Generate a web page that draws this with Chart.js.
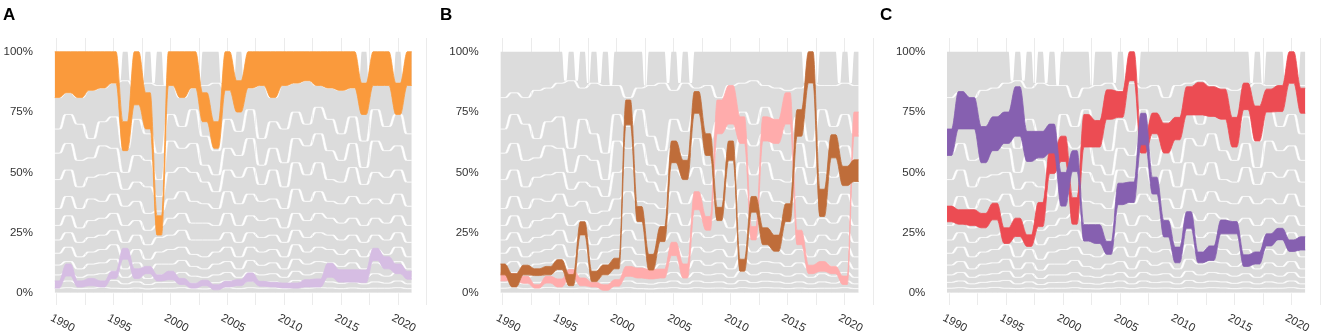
<!DOCTYPE html>
<html lang="en">
<head>
<meta charset="UTF-8">
<title>Ranked shares 1990-2021</title>
<script src="https://cdn.jsdelivr.net/npm/chart.js@4.4.1/dist/chart.umd.min.js"></script>
<style>
  body { margin: 0; background: #fff; font-family: "Liberation Sans", Arial, sans-serif; }
  .wrap { position: relative; width: 1325px; height: 335px; overflow: hidden; }
  .panel { position: absolute; top: 0; height: 335px; }
  .tag { position: absolute; top: 6px; font-weight: bold; font-size: 17px; line-height: 17px; color: #000; }
</style>
</head>
<body>
<div class="wrap">
  <div class="panel" style="left:0;width:440px"><canvas id="chartA" width="440" height="335"></canvas></div>
  <div class="panel" style="left:440px;width:440px"><canvas id="chartB" width="440" height="335"></canvas></div>
  <div class="panel" style="left:880px;width:445px"><canvas id="chartC" width="445" height="335"></canvas></div>
  <div class="tag" style="left:3px">A</div>
  <div class="tag" style="left:440px">B</div>
  <div class="tag" style="left:880px">C</div>
</div>

<script>
  // years and axis ticks
  const years = [1990, 1991, 1992, 1993, 1994, 1995, 1996, 1997, 1998, 1999, 2000, 2001, 2002, 2003, 2004, 2005,
                 2006, 2007, 2008, 2009, 2010, 2011, 2012, 2013, 2014, 2015, 2016, 2017, 2018, 2019, 2020, 2021];
  const yTicks = [0, 25, 50, 75, 100];
  const xLabelYears = [1990, 1995, 2000, 2005, 2010, 2015, 2020];
  const gridYears = [1990, 1992.5, 1995, 1997.5, 2000, 2002.5, 2005, 2007.5, 2010, 2012.5, 2015, 2017.5, 2020, 2022.5];

  // years in which a different entry takes the top rank
  const topChangeYears = [1996, 1997, 1998, 1999, 2000, 2003, 2005, 2006, 2007, 2017, 2018, 2020, 2021];

  // grey background: cumulative share boundaries (%) of the other entries, top to bottom
  const fullShare = years.map(() => 100);
  const zeroShare = years.map(() => 0);
  const bgLine1 = [81, 83, 81, 84, 85, 87, 88, 85, 87, 86, 86, 81, 85, 86, 87, 84, 87, 85, 86, 81, 86, 87, 88, 86, 85, 84, 85, 87, 86, 86, 87, 86];
  const bgLine2 = [68, 74, 70, 64, 71, 73, 60, 72, 66, 58, 74, 69, 76, 65, 59, 72, 67, 76, 64, 71, 68, 75, 70, 77, 72, 66, 73, 63, 76, 69, 74, 66];
  const bgLine3 = [58, 62, 55, 56, 61, 60, 50, 57, 55, 47, 63, 60, 62, 53, 49, 60, 57, 64, 53, 60, 54, 64, 61, 66, 59, 55, 62, 52, 63, 59, 61, 55];
  const bgLine4 = [47, 51, 44, 48, 49, 50, 43, 46, 44, 40, 50, 52, 50, 46, 42, 51, 48, 52, 45, 51, 44, 54, 49, 54, 47, 46, 52, 45, 50, 48, 51, 46];
  const bgLine5 = [35, 40, 35, 39, 38, 41, 36, 38, 33, 34, 39, 42, 38, 37, 35, 42, 37, 41, 38, 39, 35, 43, 38, 42, 38, 37, 40, 37, 39, 37, 41, 36];
  const bgLine6 = [28, 32, 27, 30, 31, 33, 28, 30, 26, 28, 31, 33, 29, 29, 28, 33, 28, 32, 30, 31, 27, 33, 30, 33, 31, 29, 31, 28, 31, 29, 32, 28];
  const bgLine7 = [22, 25, 21, 23, 24, 26, 21, 24, 20, 23, 24, 26, 22, 22, 22, 25, 21, 25, 23, 24, 21, 26, 23, 25, 24, 22, 24, 21, 24, 22, 25, 21];
  const bgLine8 = [16.5, 19, 15, 17, 18, 20, 15, 18, 14, 17, 18, 19, 16, 15, 17, 19, 15, 19, 17, 18, 15, 20, 17, 19, 18, 16, 18, 15, 18, 16, 19, 15];
  const bgLine9 = [11.6, 13, 10, 12, 12.5, 14, 10, 12.5, 9.5, 12, 12, 13.5, 11, 10, 12, 13, 10, 13.5, 11.5, 12.5, 10, 14, 12, 13, 12.5, 11, 12.5, 10, 12.5, 11, 13, 10];
  const bgLine10 = [7.5, 8.5, 6.5, 7.5, 8, 9, 6.5, 8, 6, 7.5, 7.5, 8.5, 7, 6.5, 7.5, 8.5, 6.5, 8.5, 7.5, 8, 6.5, 9, 7.5, 8.5, 8, 7, 8, 6.5, 8, 7, 8.5, 6.5];
  const bgLine11 = [4.4, 5, 3.8, 4.4, 4.8, 5.2, 3.8, 4.6, 3.5, 4.3, 4.4, 5, 4, 3.7, 4.3, 5, 3.8, 5, 4.3, 4.6, 3.8, 5.2, 4.3, 4.9, 4.6, 4, 4.6, 3.8, 4.6, 4.1, 5, 3.8];
  const bgLine12 = [2, 2.2, 1.8, 2, 2.3, 2, 1.8, 2.1, 1.7, 2, 2, 2.2, 1.8, 1.7, 2, 2.2, 1.8, 2.2, 2, 2.1, 1.8, 2.2, 2, 2.2, 2.1, 1.8, 2.1, 1.8, 2, 2, 2.2, 1.8];
  const bgBounds = [fullShare, bgLine1, bgLine2, bgLine3, bgLine4, bgLine5, bgLine6, bgLine7, bgLine8, bgLine9, bgLine10, bgLine11, bgLine12, zeroShare];

  // panel A
  const aOrangeLo = [81, 83, 81, 84, 85, 87, 59, 78, 68, 24, 86, 81, 85, 71, 60, 84, 75, 85, 86, 81, 86, 87, 88, 86, 85, 84, 85, 74, 86, 86, 74, 86];
  const aOrangeHi = [100, 100, 100, 100, 100, 100, 71, 100, 83, 32, 100, 100, 100, 83, 71, 100, 88, 100, 100, 100, 100, 100, 100, 100, 100, 100, 100, 87, 100, 100, 87, 100];
  const aPurpleLo = [2, 7, 2.5, 3, 2.5, 6, 14, 6, 8, 5, 5.5, 3.5, 2, 3, 1.3, 2.5, 3, 4.8, 2.8, 2.5, 2.1, 2, 2.5, 2.5, 6.5, 4.5, 4.5, 4.3, 13.5, 10, 8, 5.7];
  const aPurpleHi = [5, 12, 5, 6, 5, 9, 18.5, 10, 11, 7.5, 9, 6, 4, 5.3, 3.4, 4.8, 5.5, 8.3, 4.8, 4.4, 4.1, 4.1, 5.5, 5.8, 12.3, 9.6, 9.6, 9.5, 18.5, 15, 12, 9];

  // panel B
  const bBrownLo = [7.5, 2.5, 7.5, 7.2, 7.5, 9.7, 3, 24, 4.7, 7.5, 10, 69.7, 29.6, 9.5, 21.3, 54, 47, 74.5, 57, 30, 55, 9, 33.5, 20, 17.3, 29.6, 65, 87, 31.7, 56, 44.5, 46.2];
  const bBrownHi = [12, 8, 11.5, 10, 11, 13.8, 7.6, 29.5, 9, 11.6, 14.4, 80, 35.8, 16, 27.5, 63, 55, 83.5, 66, 35.5, 63, 14, 40, 27, 24, 37, 76, 100, 43, 65.6, 52.5, 55.2];
  const bPinkLo = [5, 5, 4, 2, 4.1, 2.5, 6.2, 3, 2.5, 1.1, 2.8, 6.9, 6.2, 5.8, 6.2, 15.5, 6.2, 34.5, 26, 66, 70, 62, 22, 63, 62, 70, 20, 8, 9, 8, 3.5, 65];
  const bPinkHi = [8.3, 8, 6.9, 3.4, 6.9, 5.8, 9.7, 6.2, 4.4, 3.4, 5.5, 11, 10.3, 9.7, 9.9, 21, 12, 42, 31.7, 80, 86, 73, 27.5, 73, 72, 83, 26, 11.5, 13, 11, 7, 75];

  // panel C
  const cPurpleLo = [57, 68, 68, 54, 59, 62, 65, 54.5, 56, 58, 36, 50.3, 21.5, 20.5, 16, 36.6, 37.5, 61.4, 41, 23.2, 12.5, 26.8, 12.5, 13.5, 24.5, 24.5, 11, 12, 19.5, 22, 17.2, 17.8];
  const cPurpleHi = [68, 83.5, 81, 69, 73, 75, 85.5, 67, 67, 70, 50, 59, 28.3, 28.3, 21.4, 45.5, 46, 74.5, 48, 30, 19, 33.7, 17, 19.5, 30.2, 29.6, 15.8, 17, 24.5, 26.8, 22, 23.3];
  const cRedLo = [29.5, 28.5, 28, 27, 30.3, 20.5, 23.4, 19.3, 27.5, 49.5, 54.5, 28.5, 60.5, 60.5, 72, 72.8, 88, 58, 66, 58, 63.5, 73.8, 73.8, 73.2, 72, 60.5, 76, 63, 75, 75.2, 86.9, 74.5];
  const cRedHi = [36, 34.5, 34.5, 33, 37.2, 27, 31, 24.1, 37.5, 59.5, 65, 39.5, 74, 71.5, 84.2, 83.5, 100, 65.6, 74.6, 70.4, 72.8, 85.5, 87.3, 85.5, 84.5, 72.8, 87, 77.5, 84.5, 86, 100, 84.9];

  // each year's value is held flat for a short stretch, the step between years is smoothed
  const HALF = 0.2;
  // grey ribbons: edges step late/early so neighbouring ribbons leave small gaps
  const SHIFT = 0.15;
  // half width of the flat bottom of a notch between two leaders
  const NOTCH = 0.09;

  function ribbonPoints(vals, hug) {
    const pts = [];
    const n = vals.length;
    years.forEach((yr, i) => {
      const v = vals[i];
      let start = yr - HALF, end = yr + HALF;
      if (hug && i > 0) {
        const p = vals[i - 1];
        if ((hug === 'low' && v < p) || (hug === 'high' && v > p)) start -= SHIFT;
      }
      if (hug && i < n - 1) {
        const q = vals[i + 1];
        if ((hug === 'low' && q > v) || (hug === 'high' && q < v)) end += SHIFT;
      }
      pts.push({ x: start, y: v }, { x: end, y: v });
    });
    return pts;
  }

  // top edge of the grey stack: where the leader changes, the outgoing and incoming ribbons part
  function topEdgePoints() {
    const pts = [];
    years.forEach((yr, i) => {
      if (i > 0 && topChangeYears.includes(yr)) {
        const floor = Math.max(bgLine1[i - 1], bgLine1[i]);
        pts.push({ x: yr - 0.5 - NOTCH, y: floor }, { x: yr - 0.5 + NOTCH, y: floor });
      }
      pts.push({ x: yr - HALF, y: fullShare[i] }, { x: yr + HALF, y: fullShare[i] });
    });
    return pts;
  }

  const lineBase = { pointRadius: 0, pointHoverRadius: 0, cubicInterpolationMode: 'monotone' };
  const GREY = '#dcdcdc';
  const EDGE = 'rgba(255,255,255,0.85)';

  function background() {
    const sets = [];
    for (let k = 0; k < bgBounds.length - 1; k++) {
      const upper = k === 0 ? topEdgePoints() : ribbonPoints(bgBounds[k], 'low');
      sets.push({ ...lineBase, data: ribbonPoints(bgBounds[k + 1], 'high'), borderColor: EDGE, borderWidth: 0.8, fill: false, order: 2 });
      sets.push({ ...lineBase, data: upper, borderColor: k === 0 ? 'rgba(0,0,0,0)' : EDGE, borderWidth: 0.8, backgroundColor: GREY, fill: '-1', order: 2 });
    }
    return sets;
  }

  function band(lo, hi, color) {
    return [
      { ...lineBase, data: ribbonPoints(lo), borderColor: color, borderWidth: 0.8, fill: false, order: 1 },
      { ...lineBase, data: ribbonPoints(hi), borderColor: color, borderWidth: 0.8, backgroundColor: color, fill: '-1', order: 1 }
    ];
  }

  const axisText = {
    id: 'axisText',
    afterDraw(chart) {
      const { ctx, chartArea, scales: { x, y } } = chart;
      ctx.save();
      ctx.fillStyle = '#333';
      ctx.font = '11.5px "Liberation Sans", Arial, sans-serif';
      ctx.textAlign = 'right';
      ctx.textBaseline = 'middle';
      const labelX = x.getPixelForValue(years[0]) - 24;
      yTicks.forEach(v => ctx.fillText(v + '%', labelX, y.getPixelForValue(v)));
      ctx.textAlign = 'left';
      ctx.textBaseline = 'top';
      xLabelYears.forEach(v => {
        ctx.save();
        ctx.translate(x.getPixelForValue(v) - 3, chartArea.bottom + 7);
        ctx.rotate(28 * Math.PI / 180);
        ctx.fillText(String(v), 0, 0);
        ctx.restore();
      });
      ctx.restore();
    }
  };

  function makePanel(id, bands, padLeft, padRight) {
    const datasets = [];
    bands.forEach(b => datasets.push(...band(b[0], b[1], b[2])));
    datasets.push(...background());
    new Chart(document.getElementById(id), {
      type: 'line',
      data: { datasets },
      options: {
        responsive: false,
        animation: false,
        events: [],
        layout: { padding: { left: padLeft, right: padRight, top: 38, bottom: 30 } },
        plugins: { legend: { display: false }, tooltip: { enabled: false } },
        scales: {
          x: {
            type: 'linear', min: 1989.5, max: 2022.7,
            afterBuildTicks: s => { s.ticks = gridYears.map(v => ({ value: v })); },
            grid: { color: '#ebebeb', lineWidth: 1, drawTicks: false },
            border: { display: false },
            ticks: { display: false }
          },
          y: {
            type: 'linear', min: -5, max: 105.7,
            display: false
          }
        }
      },
      plugins: [axisText]
    });
  }

  makePanel('chartA', [[aOrangeLo, aOrangeHi, '#fa9a3c'], [aPurpleLo, aPurpleHi, '#d6bde3']], 51.3, 11.2);
  makePanel('chartB', [[bBrownLo, bBrownHi, '#bf6d3a'], [bPinkLo, bPinkHi, '#ffacac']], 57, 4.2);
  makePanel('chartC', [[cPurpleLo, cPurpleHi, '#8660b0'], [cRedLo, cRedHi, '#ec4c53']], 63.6, 2.6);
</script>
</body>
</html>
